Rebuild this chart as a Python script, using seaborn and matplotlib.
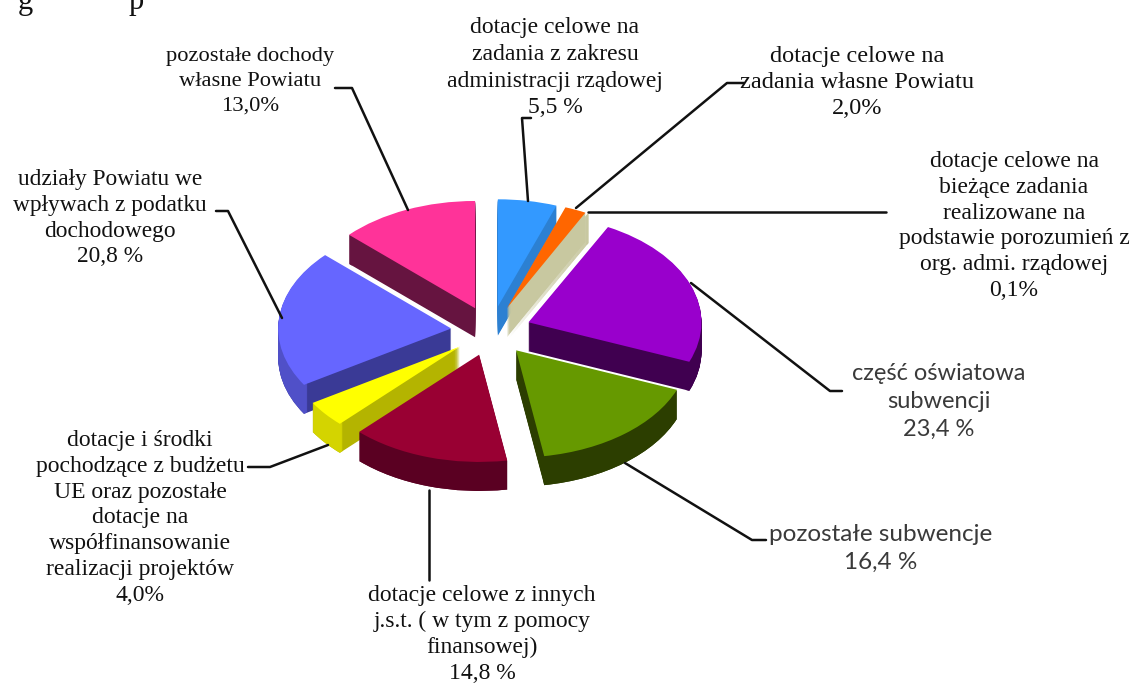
import matplotlib
matplotlib.use("Agg")
import matplotlib.pyplot as plt
import seaborn as sns

# udzial procentowy (kolejnosc zgodnie z ruchem wskazowek zegara, od gory)
names = ["zakres adm", "wlasne", "biezace", "oswiatowa", "subwencje",
         "inne jst", "UE", "udzialy", "pozostale"]
shares = [5.5, 2.0, 0.1, 23.4, 16.4, 14.8, 4.0, 20.8, 13.0]

top_colors = ["#3399FF", "#FF6600", "#C8C8A0", "#9900CC", "#669900",
              "#990033", "#FFFF00", "#6666FF", "#FF3399"]
cut_colors = ["#2C80D2", "#C8C8A0", "#C8C8A0", "#400050", "#2C3E00",
              "#5A0022", "#B4B400", "#3A3A96", "#661440"]
rim_colors = ["#2C80D2", "#C8C8A0", "#C8C8A0", "#400050", "#2C3E00",
              "#5A0022", "#D4D400", "#5050C8", "#661440"]
# kolejnosc rysowania: od tylu do przodu
draw_rank = [1, 2, 3, 4, 7, 8, 6, 5, 0]

label_texts = [
    "dotacje celowe na\nzadania z zakresu\nadministracji rządowej\n5,5 %",
    "dotacje celowe na\nzadania własne Powiatu\n2,0%",
    "dotacje celowe na\nbieżące zadania\nrealizowane na\npodstawie porozumień z\norg. admi. rządowej\n0,1%",
    "część oświatowa\nsubwencji\n23,4 %",
    "pozostałe subwencje\n16,4 %",
    "dotacje celowe z innych\nj.s.t. ( w tym z pomocy\nfinansowej)\n14,8 %",
    "dotacje i środki\npochodzące z budżetu\nUE oraz pozostałe\ndotacje na\nwspółfinansowanie\nrealizacji projektów\n4,0%",
    "udziały Powiatu we\nwpływach z podatku\ndochodowego\n20,8 %",
    "pozostałe dochody\nwłasne Powiatu\n13,0%",
]

W, H = 1133, 684
SQUASH = 0.62
CX, CY, R = 491, 331, 173
DEPTH = 29
EXPLODE = 40

sns.set_theme(style="white")
plt.rcParams["font.family"] = ["Liberation Serif", "DejaVu Sans"]

fig = plt.figure(figsize=(W / 100, H / 100), dpi=100)
ax = fig.add_axes([0, 0, 1, 1])
explode = [EXPLODE] * len(shares)
center_y = (H - CY) / SQUASH


def layer(colors, drop, z, **wedge_kw):
    wedges, _ = ax.pie(shares, colors=sns.color_palette(colors), startangle=90,
                       counterclock=False, explode=explode, radius=R,
                       center=(CX, center_y - drop / SQUASH),
                       wedgeprops=dict(linewidth=0, **wedge_kw))
    for w, rank in zip(wedges, draw_rank):
        w.set_zorder(rank * 1000 + z)


# sciany boczne z warstw, potem krawedz luku, na koncu wierzch
for d in range(DEPTH, 0, -1):
    layer(cut_colors, d, DEPTH - d)
for d in range(DEPTH, 0, -1):
    layer(rim_colors, d, 100 + DEPTH - d, width=4)
layer(top_colors, 0, 500)

ax.set_aspect("auto")
ax.set_xlim(0, W)
ax.set_ylim(0, H / SQUASH)
ax.axis("off")

# warstwa opisow, wspolrzedne w pikselach
over = fig.add_axes([0, 0, 1, 1], facecolor="none")
over.set_xlim(0, W)
over.set_ylim(H, 0)
over.axis("off")

leaders = [
    [(531, 118), (522, 118), (528, 201)],
    [(744, 83), (727, 83), (576, 208)],
    [(886, 212), (588, 212)],
    [(842, 391), (830, 391), (691, 283)],
    [(766, 540), (752, 540), (625, 463)],
    [(429, 580), (429, 490)],
    [(248, 467), (270, 467), (328, 445)],
    [(216, 211), (228, 211), (282, 318)],
    [(335, 88), (352, 88), (408, 210)],
]
for pts in leaders:
    over.plot([p[0] for p in pts], [p[1] for p in pts], color="#111111", lw=1.8)

label_pos = [(555, 17), (857, 46), (1014, 151), (939, 363), (881, 524),
             (482, 585), (140, 430), (110, 169), (250, 47)]
label_sizes = [17, 17.5, 17, 17, 17.5, 17, 17, 16.8, 16.2]
label_spacing = [1.36, 1.3, 1.3, 1.4, 1.4, 1.3, 1.3, 1.3, 1.42]
for i, (txt, (x, y)) in enumerate(zip(label_texts, label_pos)):
    sans = i in (3, 4)
    over.text(x, y, txt, ha="center", va="top",
              color="#3A3A3A" if sans else "#111111",
              family=["Lato"] if sans else ["Liberation Serif"],
              fontsize=label_sizes[i], linespacing=label_spacing[i])

# uciety wiersz tekstu na gorze strony
over.text(18, 9, "g", fontsize=22, color="#111111", va="baseline", clip_on=True)
over.text(129, 9, "p", fontsize=22, color="#111111", va="baseline", clip_on=True)

fig.savefig("out.png", dpi=100)
